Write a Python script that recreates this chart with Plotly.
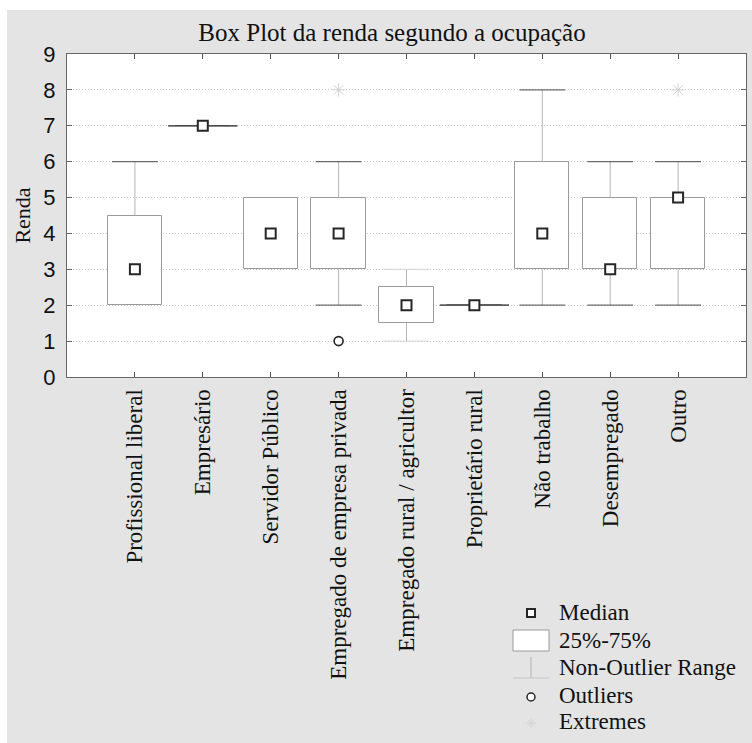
import plotly.graph_objects as go

# ---------------- data ----------------
categories = [
    "Profissional liberal",
    "Empresário",
    "Servidor Público",
    "Empregado de empresa privada",
    "Empregado rural / agricultor",
    "Proprietário rural",
    "Não trabalho",
    "Desempregado",
    "Outro",
]
median = [3, 7, 4, 4, 2, 2, 4, 3, 5]
q1 = [2, 7, 3, 3, 1.5, 2, 3, 3, 3]
q3 = [4.5, 7, 5, 5, 2.5, 2, 6, 5, 5]
whisker_low = [2, 7, 3, 2, 1, 2, 2, 2, 2]
whisker_high = [6, 7, 5, 6, 3, 2, 8, 6, 6]
outlier_cat = ["Empregado de empresa privada"]
outlier_val = [1]
extreme_cat = ["Empregado de empresa privada", "Outro"]
extreme_val = [8, 8]
y_ticks = [0, 1, 2, 3, 4, 5, 6, 7, 8, 9]

# ---------------- geometry helpers ----------------
W, H = 752, 743
L, R, T, B = 67, 746, 54, 377          # plot area in pixels
pw, ph = R - L, B - T

def px_x(x):
    return (x - L) / pw

def px_y(y):
    return (B - y) / ph

pos = list(range(1, len(categories) + 1))
cat_pos = dict(zip(categories, pos))
slot_px = pw / (len(categories) + 2)
BOX_W = 0.8
box_px = BOX_W * slot_px
cap_px = 0.53 * slot_px

SERIF = "Liberation Serif, Times New Roman, serif"
SANS = "Liberation Sans, Arial, sans-serif"

fig = go.Figure()

# boxes (25%-75%)
fig.add_trace(go.Bar(
    x=pos, base=q1, y=[b - a for a, b in zip(q1, q3)], width=BOX_W,
    marker=dict(color="white", line=dict(color="#9a9a9a", width=1)),
    hoverinfo="skip", showlegend=False,
))

# whisker stems
wx, wy = [], []
for p, lo, a, b, hi in zip(pos, whisker_low, q1, q3, whisker_high):
    if lo < a:
        wx += [p, p, None]; wy += [lo, a, None]
    if hi > b:
        wx += [p, p, None]; wy += [b, hi, None]
fig.add_trace(go.Scatter(
    x=wx, y=wy, mode="lines", line=dict(color="#b4b4b4", width=1),
    hoverinfo="skip", showlegend=False,
))

# whisker caps (skipped where the whisker coincides with a real box edge)
faint = {"Empregado rural / agricultor"}
cx, cy, cs, cc = [], [], [], []
for c, p, lo, a, b, hi in zip(categories, pos, whisker_low, q1, q3, whisker_high):
    col = "#d0d0d0" if c in faint else "#333333"
    degenerate = a == b
    for v, edge in ((lo, a), (hi, b)):
        if v == edge and not degenerate:
            continue
        cx.append(p); cy.append(v)
        cs.append(box_px if v == edge else cap_px)
        cc.append(col)
fig.add_trace(go.Scatter(
    x=cx, y=cy, mode="markers",
    marker=dict(symbol="line-ew", size=cs, color=cc, line=dict(color=cc, width=1.2)),
    hoverinfo="skip", showlegend=False,
))

# medians
fig.add_trace(go.Scatter(
    x=pos, y=median, mode="markers",
    marker=dict(symbol="square", size=10, color="white",
                line=dict(color="#262626", width=2)),
    hoverinfo="skip", showlegend=False,
))

# outliers
fig.add_trace(go.Scatter(
    x=[cat_pos[c] for c in outlier_cat], y=outlier_val, mode="markers",
    marker=dict(symbol="circle", size=9, color="white",
                line=dict(color="#262626", width=1.6)),
    hoverinfo="skip", showlegend=False,
))

# extremes
fig.add_trace(go.Scatter(
    x=[cat_pos[c] for c in extreme_cat], y=extreme_val, mode="markers",
    marker=dict(symbol="asterisk-open", size=11, color="#d2d2d2",
                line=dict(color="#d2d2d2", width=1)),
    hoverinfo="skip", showlegend=False,
))

# ---------------- background & manual legend ----------------
shapes = [
    dict(type="rect", xref="paper", yref="paper", layer="below",
         x0=px_x(0), x1=px_x(W), y0=px_y(0), y1=px_y(10),
         fillcolor="white", line=dict(width=0)),
    dict(type="rect", xref="paper", yref="paper", layer="below",
         x0=px_x(0), x1=px_x(7), y0=px_y(0), y1=px_y(H),
         fillcolor="white", line=dict(width=0)),
]
lx = 531
shapes.append(dict(type="rect", xref="paper", yref="paper",
                   x0=px_x(lx - 4), x1=px_x(lx + 4), y0=px_y(613 + 4), y1=px_y(613 - 4),
                   fillcolor="white", line=dict(color="#262626", width=2)))
shapes.append(dict(type="rect", xref="paper", yref="paper",
                   x0=px_x(513), x1=px_x(549), y0=px_y(651), y1=px_y(630),
                   fillcolor="white", line=dict(color="#9a9a9a", width=1)))
shapes.append(dict(type="line", xref="paper", yref="paper",
                   x0=px_x(lx), x1=px_x(lx), y0=px_y(678), y1=px_y(657),
                   line=dict(color="#b4b4b4", width=1)))
shapes.append(dict(type="line", xref="paper", yref="paper",
                   x0=px_x(513), x1=px_x(549), y0=px_y(678), y1=px_y(678),
                   line=dict(color="#c4c4c4", width=1)))
shapes.append(dict(type="circle", xref="paper", yref="paper",
                   x0=px_x(lx - 4), x1=px_x(lx + 4), y0=px_y(697 + 4), y1=px_y(697 - 4),
                   fillcolor="white", line=dict(color="#262626", width=1.5)))
# Extremes legend symbol: small light asterisk built from line shapes
ey, er = 723, 5
for dx, dy in ((er, 0), (0, er), (3.5, 3.5), (3.5, -3.5)):
    shapes.append(dict(type="line", xref="paper", yref="paper",
                       x0=px_x(lx - dx), x1=px_x(lx + dx),
                       y0=px_y(ey - dy), y1=px_y(ey + dy),
                       line=dict(color="#d4d4d4", width=1)))

annotations = []
legend_items = [("Median", 612), ("25%-75%", 640), ("Non-Outlier Range", 667),
                ("Outliers", 695), ("Extremes", 721)]
for txt, yy in legend_items:
    annotations.append(dict(text=txt, xref="paper", yref="paper",
                            x=px_x(558), y=px_y(yy), xanchor="left", yanchor="middle",
                            showarrow=False, borderpad=0,
                            font=dict(family=SERIF, size=23, color="#111111")))

fig.update_layout(
    width=W, height=H,
    margin=dict(l=L, r=W - R, t=T, b=H - B, pad=0),
    paper_bgcolor="#e4e4e4",
    plot_bgcolor="white",
    title=dict(text="Box Plot da renda segundo a ocupação",
               x=392 / W, xref="container", xanchor="center",
               y=1 - 32 / H, yref="container", yanchor="middle",
               font=dict(family=SERIF, size=25, color="#111111")),
    xaxis=dict(
        range=[0, len(categories) + 1],
        tickmode="array",
        tickvals=[0] + pos + [len(categories) + 1],
        ticktext=[""] + categories + [""],
        tickangle=-90,
        ticks="inside", ticklen=5, tickcolor="#555555",
        showline=True, linecolor="#666666", linewidth=1, mirror="ticks",
        showgrid=False, zeroline=False,
        ticklabelstandoff=2,
        tickfont=dict(family=SERIF, size=23, color="#111111"),
    ),
    yaxis=dict(
        range=[0, 9],
        tickmode="array", tickvals=y_ticks,
        ticks="inside", ticklen=5, tickcolor="#666666",
        showline=True, linecolor="#666666", linewidth=1, mirror="ticks",
        showgrid=True, gridcolor="#c8c8c8", griddash="1px,2px", gridwidth=1,
        zeroline=False,
        ticklabelstandoff=6,
        tickfont=dict(family=SANS, size=22, color="#111111"),
        title=dict(text="Renda", standoff=6,
                   font=dict(family=SERIF, size=22, color="#111111")),
    ),
    shapes=shapes,
    annotations=annotations,
    bargap=0,
)

fig.write_html("out.html", config={"displayModeBar": False},
               post_script=["document.body.style.margin='0px';"])
